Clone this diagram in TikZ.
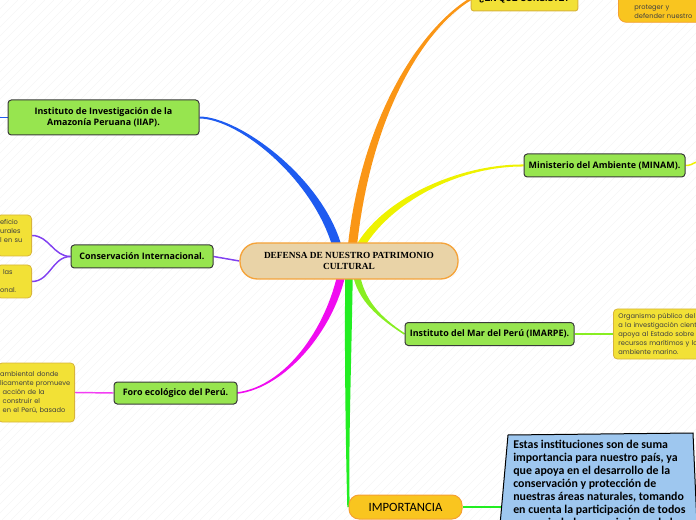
\documentclass[tikz,border=0pt]{standalone}
\usepackage{fontspec}
\setmainfont{Liberation Serif}
\newfontfamily\instfont{Open Sans}
\newfontfamily\notefont{Poppins}
\newfontfamily\headfont{Liberation Sans}
\newfontfamily\calfont{Carlito}
\usetikzlibrary{calc,backgrounds}
\setlength{\parindent}{0pt}

\definecolor{instgreen}{HTML}{97E54F}
\definecolor{instline}{HTML}{3A3A3A}
\definecolor{rootfill}{HTML}{E9D3A7}
\definecolor{rootline}{HTML}{F5A33A}
\definecolor{noteyellow}{HTML}{F2E136}
\definecolor{noteline}{HTML}{D8B43A}
\definecolor{orangefill}{HTML}{F9C51F}
\definecolor{orangeline}{HTML}{F5A030}
\definecolor{impblue}{HTML}{9EC7EF}
\definecolor{brblue}{HTML}{1E5BF0}
\definecolor{brorange}{HTML}{FA9616}
\definecolor{bryellow}{HTML}{EEF200}
\definecolor{brpurple}{HTML}{8040F0}
\definecolor{brmagenta}{HTML}{F00CF0}
\definecolor{brgreen}{HTML}{22EE22}
\definecolor{brlime}{HTML}{88EE22}

% tapered branch: colour, start, control 1, control 2, end, half width at start, half width at end
\newcommand\branch[7]{%
  \fill[#1] ($(#2)!#6!90:(#3)$) .. controls ($(#3)!#6!-90:(#2)$) and ($(#4)!#7!90:(#5)$) .. ($(#5)!#7!-90:(#4)$)
    -- ($(#5)!#7!90:(#4)$) .. controls ($(#4)!#7!-90:(#5)$) and ($(#3)!#6!90:(#2)$) .. ($(#2)!#6!-90:(#3)$) -- cycle;}

\begin{document}
\begin{tikzpicture}[x=0.75pt, y=-0.75pt,
    root/.style={ draw=rootline, fill=rootfill, line width=1pt, rounded corners=13pt,
        minimum width=163.5pt, minimum height=27pt, align=center,
        font=\bfseries\fontsize{7}{8.3}\selectfont },
    inst/.style={ draw=instline, fill=instgreen, line width=0.75pt, rounded corners=2.5pt,
        minimum height=17.25pt, align=center,
        font=\instfont\bfseries\fontsize{6.7}{8.6}\selectfont },
    note/.style={ draw=noteline, fill=noteyellow, line width=0.6pt, rounded corners=3pt,
        align=left, inner ysep=2pt, text=black!75,
        font=\notefont\fontsize{5}{6.75}\selectfont },
    headbox/.style={ draw=noteline, fill=noteyellow, line width=0.75pt, rounded corners=2pt,
        minimum width=80pt, minimum height=18pt,
        font=\headfont\bfseries\fontsize{6.5}{8}\selectfont },
    pill/.style={ draw=orangeline, fill=orangefill, line width=0.75pt },
    thinlink/.style={ line width=1.1pt },
    stripe/.style={ black!4, line width=0.4pt } ]
  \useasboundingbox (0,0) rectangle (696,520);

  % main topics
  \node[root] (root) at (349,261) {DEFENSA DE NUESTRO PATRIMONIO\\CULTURAL};
  \node[inst, minimum width=143.25pt, minimum height=26.25pt] (iiap) at (103.5,117.5)
    {Instituto de Investigación de la\\Amazonía Peruana (IIAP).};
  \node[inst, minimum width=106.5pt] (cons) at (142,256.5) {Conservación Internacional.};
  \node[inst, minimum width=92.25pt, minimum height=16.5pt] (foro) at (175.5,393) {Foro ecológico del Perú.};
  \node[inst, minimum width=120.75pt] (minam) at (604.5,165.5) {Ministerio del Ambiente (MINAM).};
  \node[inst, minimum width=126.75pt] (imarpe) at (489.5,334) {Instituto del Mar del Perú (IMARPE).};
  \node[headbox] (consist) at (524.5,-1) {¿EN QUE CONSISTE?};
  \node[pill, minimum width=84.75pt, minimum height=18pt, rounded corners=7.5pt,
    font=\calfont\fontsize{9.5}{11}\selectfont] (imp) at (405.5,507) {IMPORTANCIA};

  % notes
  \node[note, anchor=east, text width=21.4pt, inner xsep=2.25pt, minimum height=30.75pt] (consA)
    at (32,235.5) {eficio\\urales\\l en su\\\mbox{}};
  \node[note, anchor=east, text width=21.4pt, inner xsep=2.25pt, minimum height=24.75pt] (consB)
    at (32,281.5) {\hspace*{2.25pt}las\\\mbox{}\\onal.};
  \node[note, anchor=east, text width=54.4pt, inner xsep=1.5pt, minimum height=44.25pt] (foronote)
    at (75,392.5) {\mbox{ambiental donde}\\\mbox{licamente promueve}\\\mbox{\hspace*{2pt}acción de la}\\\mbox{\hspace*{2pt}construir el}\\\mbox{\hspace*{2pt}en el Perú, basado}};
  \node[note, anchor=west, text width=90pt, inner xsep=3.75pt, minimum height=37.5pt] (imarnote)
    at (613,334) {Organismo público del\\a la investigación cient\\apoya al Estado sobre\\recursos marítimos y la\\ambiente marino.};
  \node[note, draw=orangeline, fill=orangefill, rounded corners=6pt, anchor=south west,
    text width=52.5pt, inner xsep=12pt, inner ysep=3pt] (trnote)
    at (618,22.7) {\rule{0pt}{30pt}proteger y\\defender nuestro};

  \fill[impblue, draw=black, line width=0.75pt] (508,435) -- (693,433) -- (697,525) -- (500,525) -- cycle;
  \node[anchor=north west, inner xsep=7.5pt, inner ysep=3pt, align=left,
    font=\calfont\bfseries\fontsize{8.9}{9.75}\selectfont] (impnote) at (503,436)
    {Estas instituciones son de suma\\importancia para nuestro país, ya\\que apoya en el desarrollo de la\\conservación y protección de\\nuestras áreas naturales, tomando\\en cuenta la participación de todos\\como ciudadanos, asimismo de las};

  \coordinate (iiapout) at (-10,117.5);
  \coordinate (minamout) at (706,158);

  \begin{scope}[on background layer]
    \foreach \s in {-520,-511,...,700}
      \draw[stripe] (\s,520) -- ++(520,-520);

    \branch{brblue}{338,250}{320,180}{240,118}{iiap.east}{3.4pt}{0.75pt}
    \branch{brorange}{352,250}{365,120}{420,30}{consist.west}{3.4pt}{0.9pt}
    \branch{bryellow}{358,250}{385,200}{460,165}{minam.west}{3pt}{0.75pt}
    \branch{brmagenta}{342,272}{330,330}{285,387}{foro.east}{3pt}{0.6pt}
    \branch{brgreen}{349,275}{348,350}{347,450}{imp.west}{2.8pt}{0.9pt}
    \branch{brlime}{356,272}{360,300}{380,318}{imarpe.west}{2.6pt}{0.6pt}
    \draw[thinlink, brpurple] (cons.east) -- (root.west);

    \draw[thinlink, brblue] (iiap.west) -- (iiapout);
    \draw[thinlink, brpurple] (cons.west) to[out=180,in=0] (consA.east);
    \draw[thinlink, brpurple] (cons.west) to[out=180,in=0] (consB.east);
    \draw[thinlink, brmagenta!80] (foro.west) -- (foronote.east);
    \draw[thinlink, bryellow] (minam.east) to[out=0,in=190] (minamout);
    \draw[thinlink, brlime] (imarpe.east) -- (imarnote.west);
    \draw[thinlink, brorange] (consist.east) to[out=0,in=180] (trnote.west);
    \draw[thinlink, brgreen] (imp.east) -- (imp.east -| impnote.west);
  \end{scope}
\end{tikzpicture}
\end{document}
